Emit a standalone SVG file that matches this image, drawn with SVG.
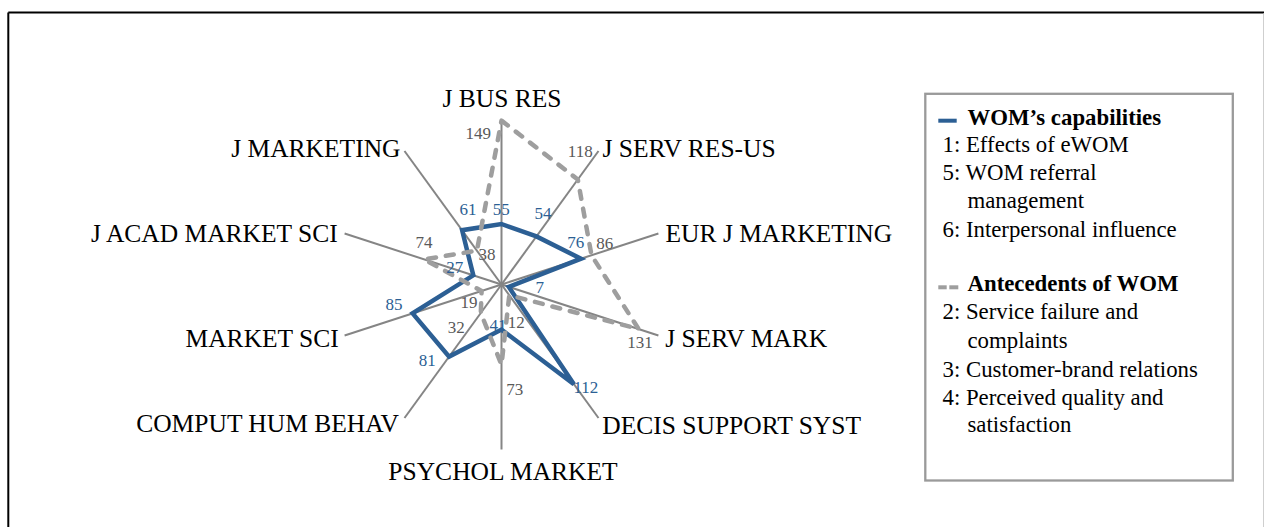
<svg xmlns="http://www.w3.org/2000/svg" width="1264" height="527" viewBox="0 0 1264 527">
<style>
.cat{font-family:"Liberation Serif","Times New Roman",serif;font-size:25.5px;fill:#000}
.val{font-family:"Liberation Serif","Times New Roman",serif;font-size:17px}
.vb{fill:#2c5f94}
.vg{fill:#595959}
.axis{stroke:#858585;stroke-width:2;fill:none}
.blue{stroke:#2c5f94;stroke-width:4.5;fill:none;stroke-linejoin:miter}
.gray{stroke:#9e9e9e;stroke-width:4.5;fill:none;stroke-dasharray:8 10;stroke-linecap:round;stroke-linejoin:round}
.leg{font-family:"Liberation Serif","Times New Roman",serif;font-size:22.8px;fill:#000}
.legb{font-weight:bold}
</style>
<rect x="0" y="0" width="1264" height="527" fill="#fff"/>
<g id="frame">
<line x1="8.3" y1="12.5" x2="1264" y2="12.5" stroke="#000" stroke-width="2"/>
<line x1="8.3" y1="12.5" x2="8.3" y2="527" stroke="#000" stroke-width="2"/>
<line x1="1263.5" y1="13.5" x2="1263.5" y2="527" stroke="#cfcfcf" stroke-width="1"/>
</g>
<g id="axes">
<line class="axis" x1="501.5" y1="284.5" x2="501.5" y2="119.5"/>
<line class="axis" x1="501.5" y1="284.5" x2="598.5" y2="151"/>
<line class="axis" x1="501.5" y1="284.5" x2="658.4" y2="233.5"/>
<line class="axis" x1="501.5" y1="284.5" x2="658.4" y2="335.5"/>
<line class="axis" x1="501.5" y1="284.5" x2="598.5" y2="418"/>
<line class="axis" x1="501.5" y1="284.5" x2="501.5" y2="449.5"/>
<line class="axis" x1="501.5" y1="284.5" x2="404.5" y2="418"/>
<line class="axis" x1="501.5" y1="284.5" x2="344.6" y2="335.5"/>
<line class="axis" x1="501.5" y1="284.5" x2="344.6" y2="233.5"/>
<line class="axis" x1="501.5" y1="284.5" x2="404.5" y2="151"/>
</g>
<g id="series-wom-capabilities">
<polygon class="blue" points="501.5,224 536.4,236.4 581,258.7 508.8,286.9 573.9,384.2 501.5,329.6 449.1,356.6 412.6,313.4 473.3,275.3 462.1,230.2"/>
</g>
<g id="series-antecedents">
<polygon class="gray" points="501.5,120.6 577.8,179.5 591.5,255.3 638.6,329 509.3,295.2 501.5,364.8 480.8,313 481.6,291 424.1,259.4 476.9,250.7"/>
</g>
<g id="category-labels">
<text class="cat" x="502" y="107.3" text-anchor="middle">J BUS RES</text>
<text class="cat" x="602.5" y="156.7">J SERV RES-US</text>
<text class="cat" x="665.5" y="241.7">EUR J MARKETING</text>
<text class="cat" x="665.3" y="347.3">J SERV MARK</text>
<text class="cat" x="602.3" y="434.3">DECIS SUPPORT SYST</text>
<text class="cat" x="503" y="480" text-anchor="middle">PSYCHOL MARKET</text>
<text class="cat" x="398.8" y="432.3" text-anchor="end">COMPUT HUM BEHAV</text>
<text class="cat" x="338.8" y="346.7" text-anchor="end">MARKET SCI</text>
<text class="cat" x="337.8" y="241.7" text-anchor="end">J ACAD MARKET SCI</text>
<text class="cat" x="400.5" y="156.7" text-anchor="end">J MARKETING</text>
</g>
<g id="value-labels-blue" class="val vb">
<text x="492.8" y="215">55</text>
<text x="534.5" y="219.3">54</text>
<text x="567.2" y="247.7">76</text>
<text x="535.5" y="293.3">7</text>
<text x="573.5" y="393.3">112</text>
<text x="489.5" y="330.7">41</text>
<text x="418.8" y="366">81</text>
<text x="385.5" y="310">85</text>
<text x="446.2" y="272.7">27</text>
<text x="459.5" y="215">61</text>
</g>
<g id="value-labels-gray" class="val vg">
<text x="465.5" y="139.3">149</text>
<text x="567.8" y="157.3">118</text>
<text x="596.2" y="249">86</text>
<text x="627.2" y="348.3">131</text>
<text x="507.8" y="328.3">12</text>
<text x="506.2" y="395">73</text>
<text x="447.8" y="333.3">32</text>
<text x="460.5" y="308.3">19</text>
<text x="415.5" y="248.3">74</text>
<text x="478.5" y="260">38</text>
</g>
<g id="legend">
<rect x="925.3" y="93.8" width="307.5" height="386.7" fill="#fff" stroke="#9a9a9a" stroke-width="2.3"/>
<line x1="938.3" y1="120.7" x2="956.7" y2="120.7" stroke="#2c5f94" stroke-width="4"/>
<text class="leg legb" x="967.5" y="125">WOM’s capabilities</text>
<text class="leg" x="942.5" y="151.7">1: Effects of eWOM</text>
<text class="leg" x="942.5" y="180">5: WOM referral</text>
<text class="leg" x="967.5" y="208.3">management</text>
<text class="leg" x="942.5" y="236.7">6: Interpersonal influence</text>
<line x1="938.3" y1="287.3" x2="946.7" y2="287.3" stroke="#9e9e9e" stroke-width="4"/>
<line x1="949.3" y1="287.3" x2="958.3" y2="287.3" stroke="#9e9e9e" stroke-width="4"/>
<text class="leg legb" x="967.5" y="291">Antecedents of WOM</text>
<text class="leg" x="942.5" y="319.3">2: Service failure and</text>
<text class="leg" x="967.5" y="348.3">complaints</text>
<text class="leg" x="942.5" y="376.7">3: Customer-brand relations</text>
<text class="leg" x="942.5" y="405">4: Perceived quality and</text>
<text class="leg" x="967.5" y="431.7">satisfaction</text>
</g>
</svg>
